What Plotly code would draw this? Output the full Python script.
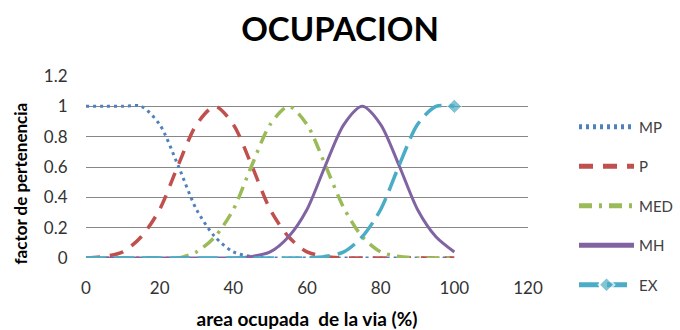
import plotly.graph_objects as go

# ---- data ----
x_vals = [0, 5, 10, 15, 20, 25, 30, 35, 40, 45, 50, 55, 60, 65, 70, 75, 80, 85, 90, 95, 100]

mp  = [1, 1, 1, 1, 0.88, 0.61, 0.32, 0.14, 0.04, 0.01, 0, 0, 0, 0, 0, 0, 0, 0, 0, 0, 0]
p   = [0, 0.01, 0.04, 0.14, 0.32, 0.61, 0.88, 1, 0.88, 0.61, 0.32, 0.14, 0.04, 0.01, 0, 0, 0, 0, 0, 0, 0]
med = [0, 0, 0, 0, 0, 0, 0.04, 0.14, 0.32, 0.61, 0.88, 1, 0.88, 0.61, 0.33, 0.14, 0.04, 0.01, 0, 0, 0]
mh  = [0, 0, 0, 0, 0, 0, 0, 0, 0, 0.01, 0.04, 0.14, 0.32, 0.61, 0.88, 1, 0.88, 0.61, 0.32, 0.14, 0.04]
ex  = [0, 0, 0, 0, 0, 0, 0, 0, 0, 0, 0, 0, 0, 0.01, 0.04, 0.14, 0.32, 0.61, 0.88, 1, 1]

series_names = ["MP", "P", "MED", "MH", "EX"]
title_text = "OCUPACION"
x_title = "area ocupada\u00a0 de la via (%)"
y_title = "factor de pertenencia"

# ---- styles ----
styles = {
    "MP":  dict(color="#4F81BD", width=3,   dash="3px,4px"),
    "P":   dict(color="#C0504D", width=3.5, dash="14px,10px"),
    "MED": dict(color="#9BBB59", width=3.5, dash="13px,7px,3px,7px"),
    "MH":  dict(color="#8064A2", width=3,   dash="solid"),
    "EX":  dict(color="#4BACC6", width=3.5, dash="20px,8px"),
}
values = {"MP": mp, "P": p, "MED": med, "MH": mh, "EX": ex}

fig = go.Figure()
for name in series_names:
    st = styles[name]
    kw = {}
    mode = "lines"
    if name == "EX":
        mode = "lines+markers"
        sizes = [0] * (len(x_vals) - 1) + [11]
        kw["marker"] = dict(symbol="diamond", size=sizes, color=st["color"])
    fig.add_trace(go.Scatter(
        x=x_vals, y=values[name], name=name, mode=mode,
        line=dict(color=st["color"], width=st["width"], dash=st["dash"],
                  shape="spline", smoothing=0.8),
        legendgroup=name, **kw))

font_family = "Lato, 'Open Sans', sans-serif"

fig.update_layout(
    width=680, height=330,
    margin=dict(l=86, r=152, t=76, b=72),
    paper_bgcolor="white", plot_bgcolor="white",
    font=dict(family=font_family, color="#404040"),
    title=dict(text="<b>" + title_text + "</b>", x=0.5, xanchor="center",
               y=1 - 29 / 330, yanchor="middle",
               font=dict(size=33, color="#000000", family=font_family)),
    showlegend=True,
    legend=dict(xref="container", yref="container",
                x=574 / 680, xanchor="left", y=1 - 110.5 / 330, yanchor="top",
                font=dict(size=15, color="#404040"),
                tracegroupgap=17, itemwidth=55, itemsizing="constant",
                maxheight=320,
                bgcolor="rgba(0,0,0,0)", traceorder="grouped"),
    xaxis=dict(range=[0, 120], dtick=20, showgrid=False, zeroline=False,
               showline=False, ticks="outside", ticklen=15,
               tickcolor="rgba(0,0,0,0)", automargin=False,
               tickfont=dict(size=17, color="#333333"),
               title=dict(text="<b>" + x_title + "</b>", standoff=15,
                          font=dict(size=19, color="#000000"))),
    yaxis=dict(range=[0, 1.2], dtick=0.2, showgrid=True, gridcolor="#878787",
               gridwidth=1, zeroline=False, showline=False, ticks="outside",
               ticklen=14, tickcolor="rgba(0,0,0,0)", automargin=False,
               tickfont=dict(size=17, color="#333333")),
    annotations=[dict(text="<b>" + y_title + "</b>", textangle=-90,
                      xref="paper", yref="paper", x=(19.5 - 86) / 442,
                      y=(258 - 184) / 182, xanchor="center", yanchor="middle",
                      showarrow=False, font=dict(size=17, color="#000000"))],
)

fig.write_html("out.html", config={"displayModeBar": False},
               post_script="document.body.style.margin='0';")
